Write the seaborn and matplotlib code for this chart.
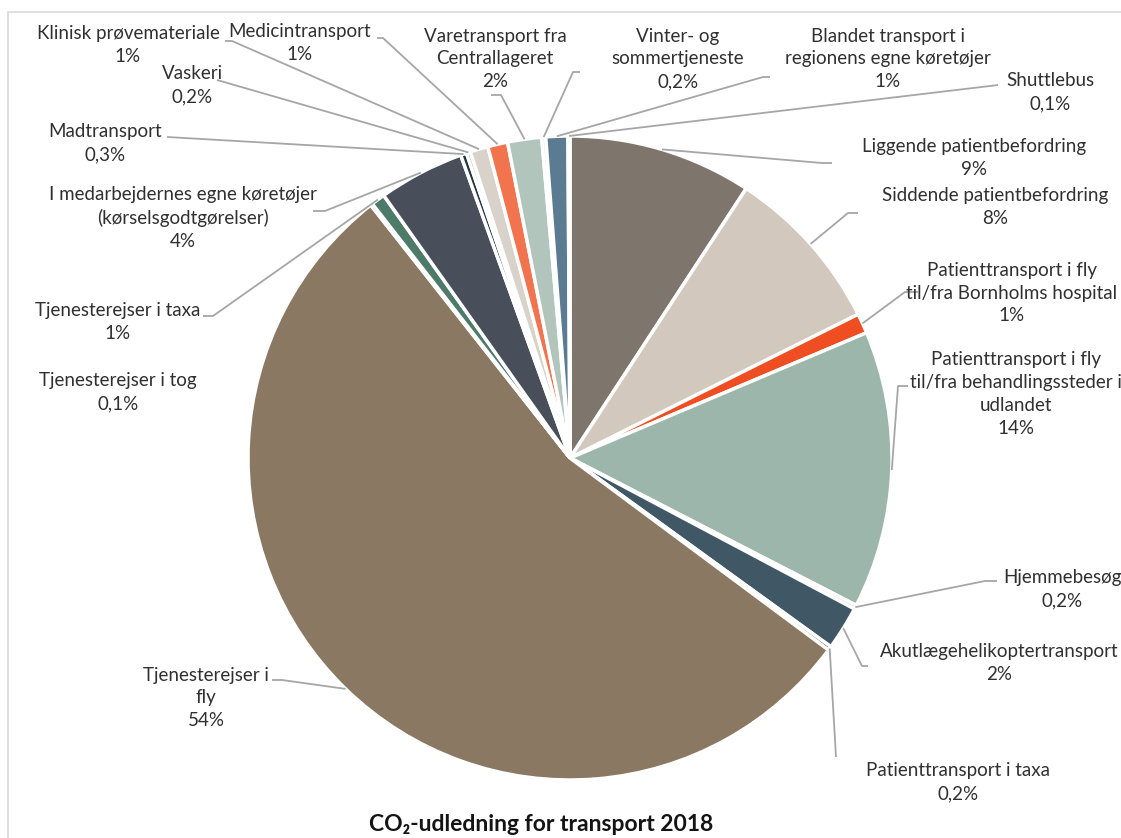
import numpy as np
import matplotlib
matplotlib.use('Agg')
import matplotlib.pyplot as plt
from matplotlib.patches import Rectangle
import seaborn as sns

# CO2 emissions for transport 2018, share in percent (clockwise from 12 o'clock)
categories = [
    "Liggende patientbefordring",
    "Siddende patientbefordring",
    "Patienttransport i fly\ntil/fra Bornholms hospital",
    "Patienttransport i fly\ntil/fra behandlingssteder i\nudlandet",
    "Hjemmebesøg",
    "Akutlægehelikoptertransport",
    "Patienttransport i taxa",
    "Tjenesterejser i\nfly",
    "Tjenesterejser i tog",
    "Tjenesterejser i taxa",
    "I medarbejdernes egne køretøjer\n(kørselsgodtgørelser)",
    "Madtransport",
    "Vaskeri",
    "Klinisk prøvemateriale",
    "Medicintransport",
    "Varetransport fra\nCentrallageret",
    "Vinter- og\nsommertjeneste",
    "Blandet transport i\nregionens egne køretøjer",
    "Shuttlebus",
]
values = [9.2, 8.4, 1.0, 13.9, 0.2, 2.2, 0.2, 54.1, 0.1, 0.7,
          4.3, 0.3, 0.2, 0.9, 1.0, 1.7, 0.2, 1.1, 0.1]
colors = ["#7e756c", "#d2c8bd", "#ef4e22", "#9db6ab", "#c9cfcb", "#405866",
          "#4f4a45", "#8a7862", "#c9bfaf", "#4e7b69", "#494e5b", "#243640",
          "#a9a39c", "#d8d2ca", "#f2744f", "#b1c5bd", "#dde3e0", "#5a7b91",
          "#bdb3a9"]

# label layout in pixel coords (text block centre) and leader elbows
label_pos = [(974, 158), (995, 207), (1012, 293), (1016, 394), (1062, 589),
             (999, 663), (958, 782), (206, 698), (118, 392), (118, 322),
             (183, 218), (105, 143), (192, 85), (128, 45), (300, 43),
             (495, 59), (678, 59), (888, 59), (1050, 92)]
leader_pts = [
    [(822, 163), (832, 163)],
    [(848, 213), (858, 213)],
    [(905, 292), (918, 292)],
    [(898, 386), (908, 386)],
    [(985, 581), (997, 581)],
    [(862, 666), (868, 666)],
    [(836, 757)],
    [(282, 680), (272, 680)],
    None,
    [(213, 316), (203, 316)],
    [(325, 211), (313, 211)],
    [(167, 137)],
    [(217, 80)],
    [(232, 41), (225, 41)],
    [(383, 38), (377, 38)],
    [(501, 95), (491, 95)],
    [(573, 72), (580, 72)],
    [(763, 77), (770, 77)],
    [(990, 86), (998, 85)],
]

W, H = 1121, 838


def px(x, y):
    return x, H - y


def pct(v):
    if v < 0.5:
        return f"{v:.1f}".replace(".", ",") + "%"
    return f"{v:.0f}%"


sns.set_theme(style="white")
plt.rcParams['font.family'] = ['Lato', 'DejaVu Sans']

fig = plt.figure(figsize=(W / 100, H / 100), dpi=100)
ax = fig.add_axes([0, 0, 1, 1])

wedges, _ = ax.pie(values, colors=sns.color_palette(colors), startangle=90,
                   counterclock=False, center=px(570, 458), radius=322,
                   wedgeprops=dict(edgecolor="white", linewidth=2.5))
ax.set_xlim(0, W)
ax.set_ylim(0, H)
ax.set_aspect("equal")
ax.axis("off")

txt_col = "#303030"
for i, w in enumerate(wedges):
    ang = np.deg2rad((w.theta1 + w.theta2) / 2)
    cx, cy = w.center
    sx, sy = cx + w.r * np.cos(ang), cy + w.r * np.sin(ang)
    if leader_pts[i]:
        pts = [(sx, sy)] + [px(*p) for p in leader_pts[i]]
        xs, ys = zip(*pts)
        ax.plot(xs, ys, color="#a6a6a6", lw=1.3, solid_capstyle="butt")
    tx, ty = px(*label_pos[i])
    ax.text(tx, ty, categories[i] + "\n" + pct(values[i]), ha="center",
            va="center", multialignment="center", fontsize=13.5,
            color=txt_col, linespacing=1.42)

ax.text(*px(541, 824), "CO₂-udledning for transport 2018", ha="center",
        va="center", fontsize=16.5, fontweight="bold", color="#141414")

# chart area border (partly outside the crop)
ax.add_patch(Rectangle(px(8, 860), 1200, 848, fill=False,
                       edgecolor="#d9d9d9", lw=1.2))

fig.savefig("out.png", dpi=100)
